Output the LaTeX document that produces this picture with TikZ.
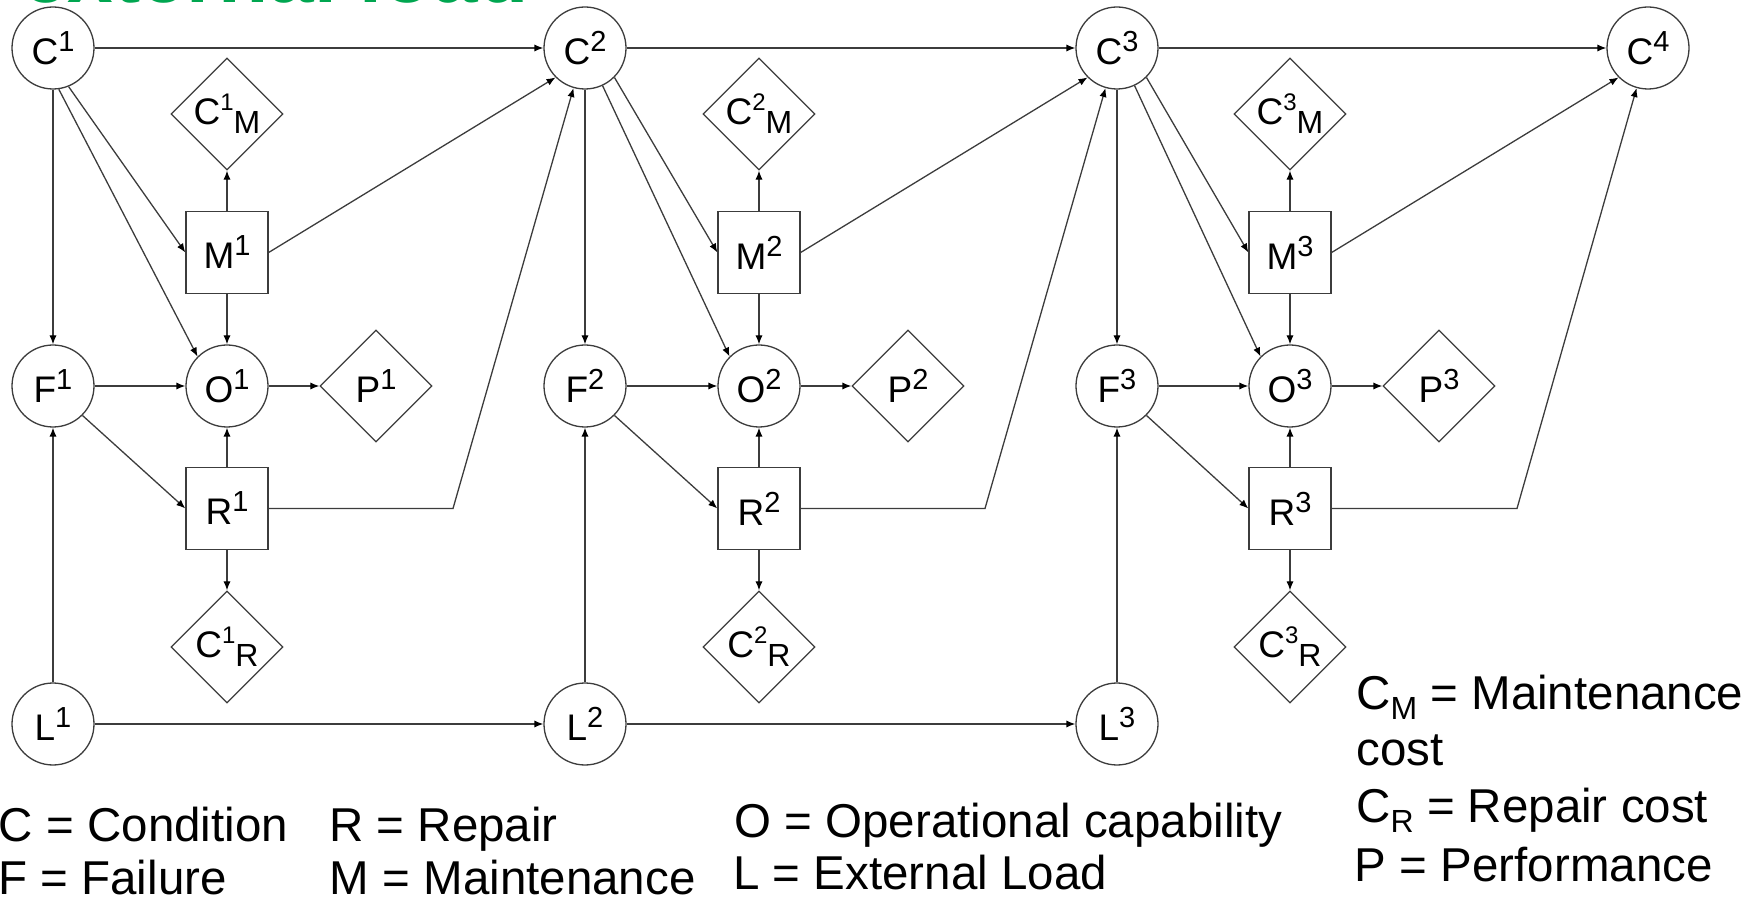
\documentclass[tikz,border=0pt]{standalone}
\usepackage{fontspec}
\setmainfont{Liberation Sans}
\usetikzlibrary{shapes.geometric,arrows.meta}
\definecolor{lnc}{RGB}{60,60,60}
\definecolor{grn}{RGB}{0,166,80}
\newcommand\nsp[1]{\raisebox{6.5pt}{\fontsize{14.5}{15}\selectfont #1}}
\newcommand\dsp[1]{\raisebox{7pt}{\fontsize{12}{13}\selectfont #1}}
\newcommand\dsb[1]{\raisebox{-4.5pt}{\fontsize{16}{17}\selectfont #1}}
\newcommand\lsb[1]{\raisebox{-5pt}{\fontsize{16}{17}\selectfont #1}}
\tikzset{
  nfont/.style={font=\fontsize{18.5}{20}\selectfont},
  cnode/.style={circle, draw=lnc, line width=0.65pt, minimum size=41pt, inner sep=0pt, nfont},
  bnode/.style={rectangle, draw=lnc, line width=0.65pt, minimum size=41pt, inner sep=0pt, nfont},
  dnode/.style={diamond, draw=lnc, line width=0.65pt, minimum width=56pt, minimum height=56pt, inner sep=0pt, nfont},
  arr/.style={draw=lnc, line width=0.65pt, -{Latex[length=4.5pt,width=3.6pt,black]}},
  legend/.style={anchor=base west, inner sep=0pt, font=\fontsize{23.75}{26}\selectfont},
  ttl/.style={anchor=base west, inner sep=0pt, text=grn, font=\fontsize{41}{45}\selectfont\bfseries},
}
\begin{document}
\begin{tikzpicture}[x=0.5pt,y=-0.5pt]
\useasboundingbox (0,0) rectangle (1763,898);
\begin{scope}
\clip (0,0) rectangle (1763,898);
\node[ttl] (title) at (22,2.5) {external load};
\end{scope}
\foreach \k/\xa/\xb in {1/53/227,2/585/759,3/1117/1290}{
  \node[cnode] (C\k) at (\xa,48) {C\nsp{\k}};
  \node[dnode] (CM\k) at (\xb,114) {C\dsp{\k}\dsb{M}};
  \node[bnode] (M\k) at (\xb,252.5) {M\nsp{\k}};
  \node[cnode] (F\k) at (\xa,386) {F\nsp{\k}};
  \node[cnode] (O\k) at (\xb,386) {O\nsp{\k}};
  \node[dnode] (P\k) at (\xb+149,386) {P\nsp{\k}};
  \node[bnode] (R\k) at (\xb,508.5) {R\nsp{\k}};
  \node[dnode] (CR\k) at (\xb,647) {C\dsp{\k}\dsb{R}};
  \node[cnode] (L\k) at (\xa,724) {L\nsp{\k}};
  \coordinate (B\k) at (\xa+400,508.5);
}
\node[cnode] (C4) at (1648,48) {C\nsp{4}};
\foreach \k/\n/\am/\ao in {1/2/-68/-82,2/3/-45/-65,3/4/-45/-65}{
  \draw[arr] (C\k) -- (C\n);
  \draw[arr] (C\k) -- (F\k);
  \draw[arr] (C\k.\am) -- (M\k.west);
  \draw[arr] (C\k.\ao) -- (O\k.north west);
  \draw[arr] (M\k) -- (CM\k);
  \draw[arr] (M\k) -- (O\k);
  \draw[arr] (M\k.east) -- (C\n.south west);
  \draw[arr] (F\k) -- (O\k);
  \draw[arr] (O\k) -- (P\k);
  \draw[arr] (F\k.south east) -- (R\k.west);
  \draw[arr] (R\k) -- (O\k);
  \draw[arr] (R\k) -- (CR\k);
  \draw[arr] (R\k.east) -- (B\k) -- (C\n);
  \draw[arr] (L\k) -- (F\k);
}
\draw[arr] (L1) -- (L2);
\draw[arr] (L2) -- (L3);
% legend
\node[legend] (lgC) at (-1.5,841) {C = Condition};
\node[legend] (lgR) at (329,841) {R = Repair};
\node[legend] (lgF) at (-2,894) {F = Failure};
\node[legend] (lgM) at (329.5,894) {M = Maintenance};
\node[legend] (lgO) at (734,837) {O = Operational capability};
\node[legend] (lgL) at (733,889) {L = External Load};
\node[legend] (lgCM) at (1356,710) {C\lsb{M} = Maintenance};
\node[legend] (lgcost) at (1356,765) {cost};
\node[legend] (lgCR) at (1356,822) {C\lsb{R} = Repair cost};
\node[legend] (lgP) at (1354.5,881) {P = Performance};
\end{tikzpicture}
\end{document}
